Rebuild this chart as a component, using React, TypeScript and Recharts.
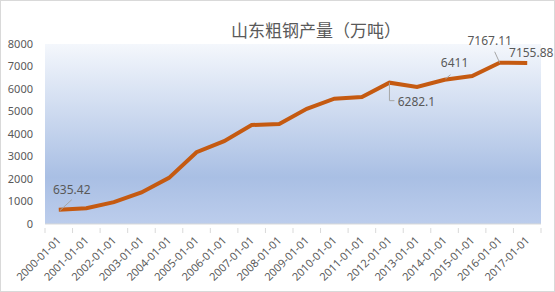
import { LineChart, Line, XAxis, YAxis, LabelList } from "recharts";

const years = [
  "2000-01-01", "2001-01-01", "2002-01-01", "2003-01-01", "2004-01-01", "2005-01-01",
  "2006-01-01", "2007-01-01", "2008-01-01", "2009-01-01", "2010-01-01", "2011-01-01",
  "2012-01-01", "2013-01-01", "2014-01-01", "2015-01-01", "2016-01-01", "2017-01-01",
];
const output = [
  635.42, 700, 970, 1400, 2050, 3190, 3680, 4400, 4440, 5120, 5570, 5640,
  6282.1, 6090, 6411, 6580, 7167.11, 7155.88,
];
const yTicks = [0, 1000, 2000, 3000, 4000, 5000, 6000, 7000, 8000];
const labelled = [0, 12, 14, 16, 17];

const data = years.map((year, i) => ({ year, value: output[i] }));

const FONT = '"Noto Sans", "Noto Sans CJK SC", sans-serif';
const GRAY = "#595959";
const HALF = 496 / 18 / 2;

// where each data label sits relative to its point, and its leader line
const labelStyle: Record<number, { dx: number; dy: number; leader?: string }> = {
  0: { dx: 13, dy: -20, leader: "M1,1 L13,-10" },
  12: { dx: 27, dy: 19, leader: "M0,0 L0,18 L5,18" },
  14: { dx: 10, dy: -17, leader: "M1,-1 L6,-5" },
  16: { dx: -10, dy: -22, leader: "M0,0 L-5,-11" },
  17: { dx: 4, dy: -10 },
};

function DataLabel(props: any) {
  const { x, y, index, value } = props;
  const s = labelStyle[index];
  if (!s) return null;
  return (
    <g>
      {s.leader && (
        <path d={s.leader} transform={`translate(${x},${y})`} stroke="#a6a6a6" strokeWidth={1} fill="none" />
      )}
      <text x={x + s.dx} y={y + s.dy} textAnchor="middle" dominantBaseline="central" fontSize={12} fill={GRAY} fontFamily={FONT}>
        {value}
      </text>
    </g>
  );
}

function XTick(props: any) {
  const { x, y, payload, index, visibleTicksCount } = props;
  return (
    <g>
      <line x1={x - HALF} x2={x - HALF} y1={y - 4} y2={y + 1} stroke="#d9d9d9" />
      {index === visibleTicksCount - 1 && (
        <line x1={x + HALF} x2={x + HALF} y1={y - 4} y2={y + 1} stroke="#d9d9d9" />
      )}
      <text
        x={x + 3}
        y={y + 9}
        textAnchor="end"
        transform={`rotate(-45, ${x + 3}, ${y + 9})`}
        fontSize={11}
        fill={GRAY}
        fontFamily={FONT}
      >
        {payload.value}
      </text>
    </g>
  );
}

export default function App() {
  return (
    <div
      style={{
        position: "absolute",
        left: 0,
        top: 0,
        width: 553,
        height: 290,
        border: "1px solid #d9d9d9",
        background: "#fff",
      }}
    >
      <div
        style={{
          position: "absolute",
          left: 0,
          width: 630,
          top: 16,
          textAlign: "center",
          fontSize: 17,
          color: GRAY,
          fontFamily: FONT,
        }}
      >
        山东粗钢产量（万吨）
      </div>
      <LineChart width={555} height={292} data={data} margin={{ top: 43, right: 15, bottom: 0, left: 0 }}>
        <defs>
          <linearGradient id="bg" x1="0" y1="0" x2="0" y2="1">
            <stop offset="0%" stopColor="#f4f7fc" />
            <stop offset="74%" stopColor="#a9bfe4" />
            <stop offset="100%" stopColor="#bccdec" />
          </linearGradient>
        </defs>
        <rect x={44} y={43} width={496} height={180} fill="url(#bg)" />
        <XAxis
          dataKey="year"
          interval={0}
          height={69}
          padding={{ left: HALF, right: HALF }}
          stroke="#d9d9d9"
          tickLine={false}
          tick={<XTick />}
        />
        <YAxis
          width={44}
          domain={[0, 8000]}
          ticks={yTicks}
          axisLine={false}
          tickLine={false}
          tickMargin={6}
          tick={{ fontSize: 11, fill: GRAY, fontFamily: FONT }}
        />
        <Line
          type="linear"
          dataKey="value"
          stroke="#c55a11"
          strokeWidth={4}
          dot={false}
          activeDot={false}
          isAnimationActive={false}
        >
          <LabelList dataKey="value" content={(p: any) => (labelled.includes(p.index) ? <DataLabel {...p} /> : null)} />
        </Line>
      </LineChart>
    </div>
  );
}
